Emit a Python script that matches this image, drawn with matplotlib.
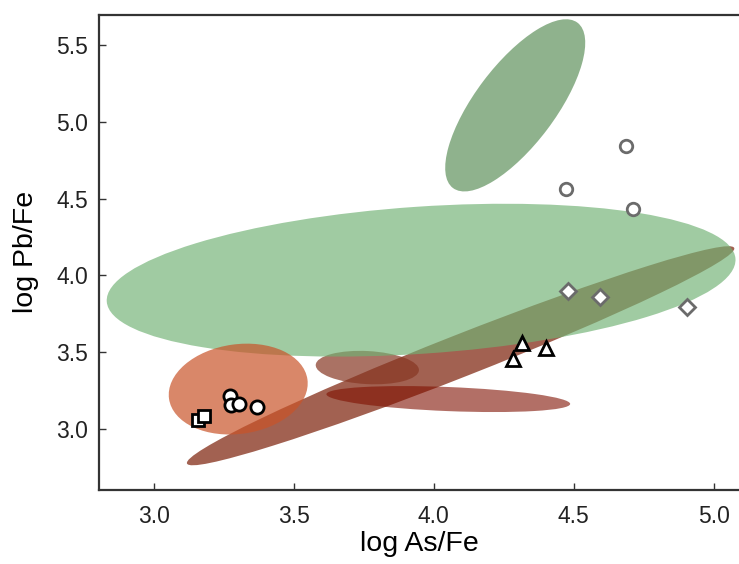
import matplotlib.pyplot as plt
from matplotlib.patches import Ellipse
from matplotlib.transforms import Affine2D

plt.rcParams['font.family'] = ['Liberation Sans', 'DejaVu Sans']

# === ELLIPSE FIELDS (center in data units, width/height in x-units, angle in deg) ===
ell_cx = [4.096, 3.763, 4.052, 3.955, 3.302, 4.291]
ell_cy = [3.477, 3.400, 3.195, 3.969, 3.260, 5.107]
ell_w = [2.10, 0.369, 0.871, 2.25, 0.499, 0.739]
ell_h = [0.150, 0.118, 0.086, 0.525, 0.320, 0.286]
ell_ang = [21.5, -3.0, -2.3, 3.9, 8.0, 53.0]
ell_color = ["#8b3a26", "#873723", "#7f1000", "#71b274", "#c95429", "#8fb28d"]
ell_alpha = [0.8, 0.7, 0.6, 0.67, 0.7, 1.0]

# === SAMPLE POINTS ===
sq_x = [3.159, 3.180]
sq_y = [3.059, 3.085]
circ_x = [3.273, 3.277, 3.306, 3.369]
circ_y = [3.214, 3.156, 3.163, 3.145]
tri_x = [4.315, 4.282, 4.402]
tri_y = [3.557, 3.455, 3.529]
dia_x = [4.481, 4.595, 4.904]
dia_y = [3.900, 3.861, 3.793]
ocirc_x = [4.6875, 4.473, 4.7125]
ocirc_y = [4.842, 4.560, 4.432]

fig = plt.figure(figsize=(7.39, 5.64), dpi=100)
ax = fig.add_axes([0.134, 0.1312, 0.866, 0.8427])
ax.set_xlim(2.805, 5.09)
ax.set_ylim(2.603, 5.697)

# ratio of y px/unit to x px/unit, so angles look right on screen
bbox = ax.get_position()
fw, fh = fig.get_size_inches()
px_x = bbox.width * fw / (5.09 - 2.805)
px_y = bbox.height * fh / (5.697 - 2.603)
r = px_y / px_x

for cx, cy, w, h, a, c, al in zip(ell_cx, ell_cy, ell_w, ell_h, ell_ang, ell_color, ell_alpha):
    e = Ellipse((0, 0), w, h, angle=a, facecolor=c, edgecolor="none", alpha=al)
    e.set_transform(Affine2D().scale(1, 1 / r).translate(cx, cy) + ax.transData)
    ax.add_patch(e)

ax.plot(sq_x, sq_y, "s", ms=8, mfc="white", mec="black", mew=2, ls="none")
ax.plot(circ_x, circ_y, "o", ms=9.5, mfc="white", mec="black", mew=2, ls="none")
ax.plot(tri_x, tri_y, "^", ms=10, mfc="white", mec="black", mew=2, ls="none")
ax.plot(dia_x, dia_y, "D", ms=8, mfc="white", mec="#6b6b6b", mew=2, ls="none")
ax.plot(ocirc_x, ocirc_y, "o", ms=9, mfc="white", mec="#6b6b6b", mew=2, ls="none")

ax.set_xticks([3.0, 3.5, 4.0, 4.5, 5.0])
ax.set_yticks([3.0, 3.5, 4.0, 4.5, 5.0, 5.5])
ax.tick_params(direction="in", length=5, width=1, labelsize=16.5, color="#333333",
               labelcolor="#222222")
ax.tick_params(axis="x", pad=11)
ax.tick_params(axis="y", pad=8)
for s in ["left", "bottom", "top"]:
    ax.spines[s].set_linewidth(1.6)
    ax.spines[s].set_color("#333333")
ax.spines["right"].set_visible(False)

ax.set_xlabel("log As/Fe", fontsize=20.5, labelpad=2)
ax.set_ylabel("log Pb/Fe", fontsize=20.5, labelpad=12)

plt.savefig("out.png", dpi=100)
plt.close()
